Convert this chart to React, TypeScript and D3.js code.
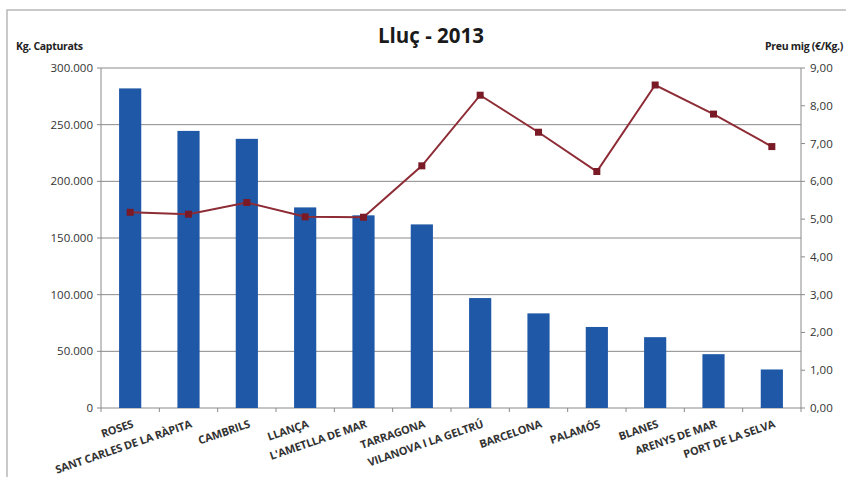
import React from "react";
import * as d3 from "d3";

const categories = [
  "ROSES",
  "SANT CARLES DE LA RÀPITA",
  "CAMBRILS",
  "LLANÇA",
  "L'AMETLLA DE MAR",
  "TARRAGONA",
  "VILANOVA I LA GELTRÚ",
  "BARCELONA",
  "PALAMÓS",
  "BLANES",
  "ARENYS DE MAR",
  "PORT DE LA SELVA",
];
const kgCapturats = [282000, 244500, 237500, 177000, 170000, 162000, 97000, 83500, 71500, 62500, 47500, 34000];
const preuMig = [5.18, 5.13, 5.44, 5.06, 5.05, 6.41, 8.28, 7.3, 6.26, 8.55, 7.78, 6.92];
const leftTicks = [0, 50000, 100000, 150000, 200000, 250000, 300000];
const rightTicks = [0, 1, 2, 3, 4, 5, 6, 7, 8, 9];

const W = 846;
const H = 477;
const M = { left: 101, right: 801, top: 68, bottom: 408 };

const fmtLeft = (v: number) => (v === 0 ? "0" : d3.format(",")(v).replace(/,/g, "."));
const fmtRight = (v: number) => v.toFixed(2).replace(".", ",");

export default function App() {
  const x = d3.scaleBand<string>().domain(categories).range([M.left, M.right]).paddingInner(0.62).paddingOuter(0.31);
  const yL = d3.scaleLinear().domain([0, 300000]).range([M.bottom, M.top]);
  const yR = d3.scaleLinear().domain([0, 9]).range([M.bottom, M.top]);
  const step = (M.right - M.left) / categories.length;
  const cx = (c: string) => (x(c) as number) + x.bandwidth() / 2;
  const line = d3
    .line<number>()
    .x((_, i) => cx(categories[i]))
    .y((d) => yR(d));
  const font = "'Open Sans', 'Liberation Sans', sans-serif";
  const grid = "#8a8a8a";

  return (
    <svg width={W} height={H} style={{ position: "absolute", left: 0, top: 0, background: "#fff" }} fontFamily={font}>
      <rect x={7} y={10} width={W + 10} height={H} fill="#fff" stroke="#b8b8b8" strokeWidth={1.5} />
      <text x={431} y={43} textAnchor="middle" fontSize={20.5} fontWeight={700} fill="#1a1a1a">
        Lluç - 2013
      </text>
      <text x={16} y={50} fontSize={10.5} fontWeight={700} fill="#222" letterSpacing={-0.3}>
        Kg. Capturats
      </text>
      <text x={843} y={50} textAnchor="end" fontSize={10.5} fontWeight={700} fill="#222" letterSpacing={-0.3}>
        Preu mig (€/Kg.)
      </text>
      {leftTicks.map((t) => (
        <line key={"g" + t} x1={M.left} x2={M.right} y1={yL(t)} y2={yL(t)} stroke={grid} strokeWidth={1} />
      ))}
      <line x1={M.left} x2={M.left} y1={M.top} y2={M.bottom} stroke={grid} />
      <line x1={M.right} x2={M.right} y1={M.top} y2={M.bottom} stroke={grid} />
      {leftTicks.map((t) => (
        <g key={"l" + t}>
          <line x1={M.left - 4} x2={M.left} y1={yL(t)} y2={yL(t)} stroke={grid} />
          <text x={93} y={yL(t)} dy="0.35em" textAnchor="end" fontSize={11.5} fill="#333">
            {fmtLeft(t)}
          </text>
        </g>
      ))}
      {rightTicks.map((t) => (
        <g key={"r" + t}>
          <line x1={M.right} x2={M.right + 4} y1={yR(t)} y2={yR(t)} stroke={grid} />
          <text x={810} y={yR(t)} dy="0.35em" textAnchor="start" fontSize={11.5} fill="#333">
            {fmtRight(t)}
          </text>
        </g>
      ))}
      {d3.range(categories.length + 1).map((i) => (
        <line key={"xt" + i} x1={M.left + i * step} x2={M.left + i * step} y1={M.bottom} y2={M.bottom + 4} stroke={grid} />
      ))}
      {categories.map((c, i) => (
        <rect key={c} x={x(c)} y={yL(kgCapturats[i])} width={x.bandwidth()} height={M.bottom - yL(kgCapturats[i])} fill="#1f58a6" />
      ))}
      <path d={line(preuMig) || ""} fill="none" stroke="#8e2c36" strokeWidth={2} />
      {preuMig.map((v, i) => (
        <rect key={"m" + i} x={cx(categories[i]) - 3.5} y={yR(v) - 3.5} width={7} height={7} fill="#7a1a26" />
      ))}
      {categories.map((c) => (
        <text
          key={"xl" + c}
          transform={`translate(${cx(c) + 4},${M.bottom + 19}) rotate(-19)`}
          textAnchor="end"
          fontSize={11}
          fontWeight={700}
          fill="#333"
          letterSpacing={-0.2}
        >
          {c}
        </text>
      ))}
    </svg>
  );
}
